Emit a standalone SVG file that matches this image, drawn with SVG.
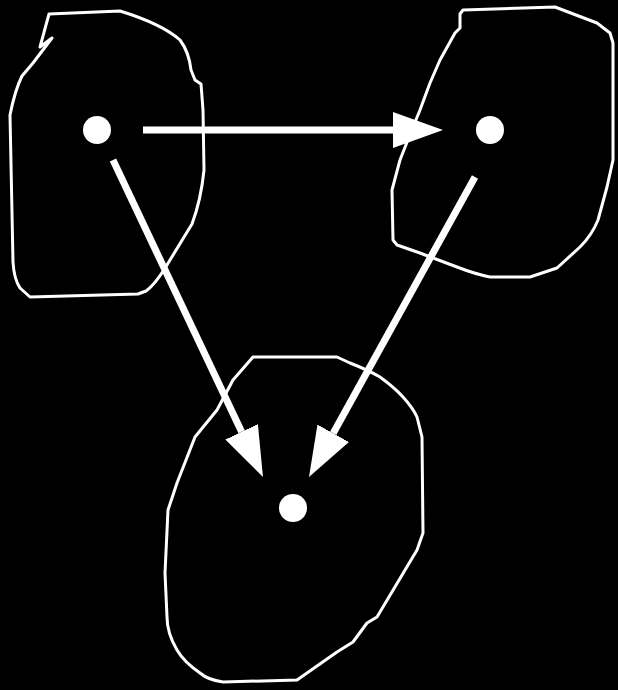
<svg xmlns="http://www.w3.org/2000/svg" width="618" height="690" viewBox="0 0 618 690">
<style>
.blob{fill:none;stroke:#fff;stroke-width:3;stroke-linejoin:round}
.dot{fill:#fff}
.edge{stroke:#fff;stroke-width:7;fill:none}
</style>
<defs>
<marker id="ah" markerUnits="userSpaceOnUse" markerWidth="50" markerHeight="36" refX="0" refY="18" orient="auto" viewBox="0 0 50 36">
<path d="M0,0 L50,18 L0,36 Z" fill="#fff"/>
</marker>
</defs>
<rect width="618" height="690" fill="#000"/>
<g id="nodeA">
<path class="blob" d="M49,14 L120,11 Q162,24 180,40 Q189,52 191,70 L195,80 L201,84 L203,110 L204,170 Q201,200 192,224 L170,260 Q156,284 146,291 L138,294 L30,297 L20,288 Q14,279 13,262 L10,115 Q15,90 22,76 L33,63 L52,38 L40,47 Z"/>
<circle class="dot" cx="97" cy="130" r="14"/>
</g>
<g id="nodeB">
<path class="blob" d="M463,10 L460,14 L460,28 L455,33 L440,60 L430,83 L420,110 L413,127 L400,160 L392,190 L393,240 L397,245 L420,253 L457,267 Q475,274 490,277 L530,277 L557,268 L580,247 Q592,235 598,220 L607,187 L613,160 L613,43 L610,33 L597,23 L555,7 Z"/>
<circle class="dot" cx="490" cy="130" r="14"/>
</g>
<g id="nodeC">
<path class="blob" d="M253,357 L337,357 L350,363 Q368,370 380,377 Q395,388 403,397 Q413,408 417,417 L422,437 L423,533 L417,550 L377,617 L367,623 L353,642 L337,652 L307,673 L297,680 L223,682 Q208,680 200,673 Q184,662 177,650 Q167,633 167,617 L165,573 L168,510 L177,483 L195,437 L217,410 L233,380 Z"/>
<circle class="dot" cx="293" cy="508" r="14"/>
</g>
<g id="edges">
<line class="edge" x1="143" y1="130" x2="393" y2="130" marker-end="url(#ah)"/>
<line class="edge" x1="113" y1="160" x2="241.6" y2="431.8" marker-end="url(#ah)"/>
<line class="edge" x1="475" y1="177" x2="333.2" y2="433.3" marker-end="url(#ah)"/>
</g>
</svg>
